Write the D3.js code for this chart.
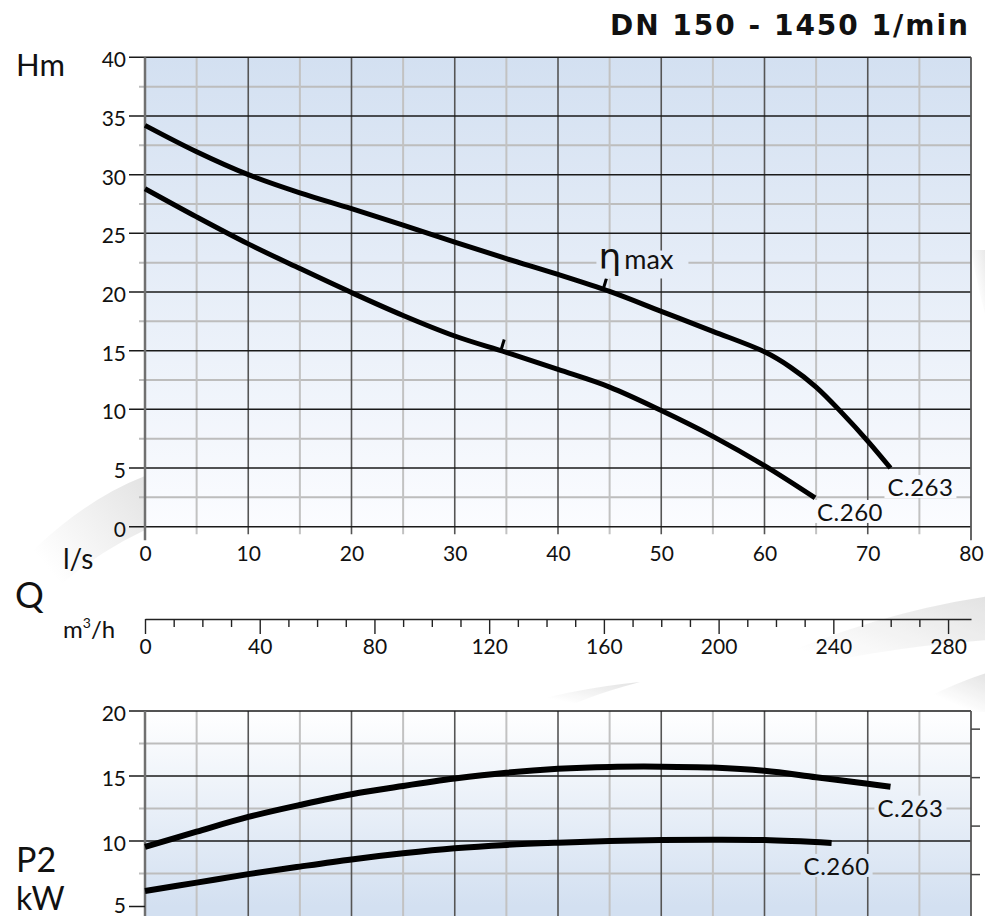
<!DOCTYPE html>
<meta charset="utf-8">
<title>DN 150 - 1450 1/min</title>
<style>
body { margin: 0; background: #fff; }
svg text { fill: #111; }
.tick text { font-size: 21px; font-family: Lato, "Open Sans", sans-serif; }
</style>
<script src="https://d3js.org/d3.v7.min.js"></script>
<div id="chart"></div>
<script>

// tick labels
var qTicks = [0, 10, 20, 30, 40, 50, 60, 70, 80];            // l/s
var qMinor = [5, 15, 25, 35, 45, 55, 65, 75];
var hTicks = [0, 5, 10, 15, 20, 25, 30, 35, 40];             // m
var hMinor = [2.5, 7.5, 12.5, 17.5, 22.5, 27.5, 32.5, 37.5];
var m3Ticks = [0, 40, 80, 120, 160, 200, 240, 280];          // m3/h
var m3Minor = [10, 20, 30, 50, 60, 70, 90, 100, 110, 130, 140, 150, 170, 180, 190,
               210, 220, 230, 250, 260, 270];
var pTicks = [5, 10, 15, 20];                                // kW
var pMinor = [7.5, 12.5, 17.5];
var hpTicks = [10, 15, 20, 25];                              // HP, right side, unlabeled

// head curves H(Q)
var q263 = [0, 5, 10, 15, 20, 25, 30, 35, 40, 45, 50, 55, 60, 62.5, 65, 67.5, 70, 72.2];
var h263 = [34.2, 31.95, 30.0, 28.45, 27.1, 25.7, 24.25, 22.85, 21.5, 20.05, 18.35, 16.65, 14.9, 13.6, 11.9, 9.7, 7.3, 5.0];
var q260 = [0, 5, 10, 15, 20, 25, 30, 35, 40, 45, 50, 55, 60, 64.9];
var h260 = [28.8, 26.4, 24.1, 22.0, 19.95, 18.0, 16.25, 14.85, 13.4, 11.9, 9.9, 7.7, 5.2, 2.45];

// best efficiency points
var etaQ = [44.4, 34.5];
var etaH = [20.3, 15.1];

// power curves P2(Q)
var qp263 = [0, 5, 10, 15, 20, 25, 30, 35, 40, 45, 50, 55, 60, 65, 70, 72.2];
var p263 = [9.55, 10.72, 11.85, 12.77, 13.6, 14.23, 14.8, 15.25, 15.55, 15.7, 15.72, 15.65, 15.4, 14.9, 14.4, 14.18];
var qp260 = [0, 5, 10, 15, 20, 25, 30, 35, 40, 45, 50, 55, 60, 66.5];
var p260 = [6.15, 6.8, 7.45, 8.03, 8.58, 9.05, 9.44, 9.7, 9.87, 10.0, 10.08, 10.1, 10.07, 9.85];

var models = ["C.263", "C.260"];

var W = 985, H = 916;
var FONT = "Lato, 'Open Sans', sans-serif";
var svg = d3.select("#chart").append("svg")
  .attr("width", W).attr("height", H)
  .style("font-family", FONT);

var x = d3.scaleLinear().domain([0, 80]).range([145, 971]);
var xM3 = d3.scaleLinear().domain([0, 288]).range([145, 971]);
var yH = d3.scaleLinear().domain([0, 40]).range([526.7, 57.3]);
var yP = d3.scaleLinear().domain([5, 20]).range([906, 711]);
var yHp = d3.scaleLinear().domain([5 / 0.7457, 20 / 0.7457]).range([906, 711]);

var defs = svg.append("defs");
function grad(id, y1, y2, c1, c2) {
  var g = defs.append("linearGradient").attr("id", id)
    .attr("gradientUnits", "userSpaceOnUse")
    .attr("x1", 0).attr("x2", 0).attr("y1", y1).attr("y2", y2);
  g.append("stop").attr("offset", 0).attr("stop-color", c1);
  g.append("stop").attr("offset", 1).attr("stop-color", c2);
}
grad("topBg", yH(40), yH(0), "#d3e0f1", "#fbfcff");
grad("botBg", yP(20), yP(5), "#ffffff", "#d3e0f1");
var sw = defs.append("linearGradient").attr("id", "swoosh")
  .attr("x1", 1).attr("y1", 0).attr("x2", 0).attr("y2", 1);
sw.append("stop").attr("offset", 0).attr("stop-color", "#dedede");
sw.append("stop").attr("offset", 0.6).attr("stop-color", "#ffffff");

// faint decorative swooshes in the background
var decor = svg.append("g").attr("opacity", 0.85);
decor.append("path").attr("d", "M0,585 Q70,505 145,476 L145,530 Q60,570 0,650 Z").attr("fill", "url(#swoosh)");
decor.append("path").attr("d", "M700,695 Q840,618 990,596 L990,640 Q840,650 700,695 Z").attr("fill", "url(#swoosh)");
decor.append("path").attr("d", "M900,712 Q950,684 990,672 L990,712 Z").attr("fill", "url(#swoosh)");
decor.append("path").attr("d", "M500,712 Q560,690 640,682 Q580,698 560,712 Z").attr("fill", "url(#swoosh)");
decor.append("path").attr("d", "M971,250 Q980,300 990,330 L990,250 Z").attr("fill", "url(#swoosh)");

// ---------- panel helper ----------
function panel(y, yTop, yBot, bg, major, minor, vBottom) {
  var g = svg.append("g");
  g.append("rect")
    .attr("x", x(0)).attr("y", yTop).attr("width", x(80) - x(0)).attr("height", yBot - yTop)
    .attr("fill", "url(#" + bg + ")");
  // minor grid
  g.selectAll(".hmin").data(minor).enter().append("line")
    .attr("x1", x(0) - 6).attr("x2", x(80))
    .attr("y1", function(d) { return y(d); }).attr("y2", function(d) { return y(d); })
    .attr("stroke", "#bdbdbd").attr("stroke-width", 2);
  g.selectAll(".vmin").data(qMinor).enter().append("line")
    .attr("x1", function(d) { return x(d); }).attr("x2", function(d) { return x(d); })
    .attr("y1", yTop).attr("y2", vBottom)
    .attr("stroke", "#c2c2c2").attr("stroke-width", 2);
  // major grid
  g.selectAll(".vmaj").data(qTicks.slice(1, -1)).enter().append("line")
    .attr("x1", function(d) { return x(d); }).attr("x2", function(d) { return x(d); })
    .attr("y1", yTop).attr("y2", vBottom)
    .attr("stroke", "#555").attr("stroke-width", 1.6);
  g.selectAll(".hmaj").data(major).enter().append("line")
    .attr("x1", x(0) - 16).attr("x2", x(80))
    .attr("y1", function(d) { return y(d); }).attr("y2", function(d) { return y(d); })
    .attr("stroke", "#1a1a1a").attr("stroke-width", 1.5);
  // borders
  g.append("line").attr("x1", x(0)).attr("x2", x(0)).attr("y1", yTop).attr("y2", vBottom + 6)
    .attr("stroke", "#707070").attr("stroke-width", 2.5);
  g.append("line").attr("x1", x(80)).attr("x2", x(80)).attr("y1", yTop).attr("y2", vBottom + 6)
    .attr("stroke", "#555").attr("stroke-width", 1.8);
  // tick labels
  var ax = g.append("g").attr("transform", "translate(" + x(0) + ",0)")
    .call(d3.axisLeft(y).tickValues(major).tickSize(0).tickPadding(19));
  ax.select(".domain").remove();
  ax.selectAll("text").attr("dy", "0.45em").attr("fill", "#111");
  return g;
}

panel(yH, yH(40), yH(0), "topBg", hTicks, hMinor, yH(0) + 7.5);
panel(yP, yP(20), H + 2, "botBg", pTicks.slice(1), pMinor, H + 2);

// the "5" of the power axis sits on the bottom edge
var p5 = svg.append("g").attr("transform", "translate(" + x(0) + ",0)")
  .call(d3.axisLeft(yP).tickValues([pTicks[0]]).tickSize(16).tickPadding(3));
p5.select(".domain").remove();
p5.selectAll("line").attr("stroke", "#1a1a1a").attr("stroke-width", 1.5);
p5.selectAll("text").attr("dy", "0.3em").attr("fill", "#111");

// right side HP ticks on the power panel
var hpAx = svg.append("g").attr("transform", "translate(" + x(80) + ",0)")
  .call(d3.axisRight(yHp).tickValues(hpTicks).tickSize(9).tickFormat(""));
hpAx.select(".domain").remove();
hpAx.selectAll("line").attr("stroke", "#444").attr("stroke-width", 1.5);

// Q axis in l/s
var qAx = svg.append("g").attr("transform", "translate(0," + yH(0) + ")")
  .call(d3.axisBottom(x).tickValues(qTicks).tickSize(0).tickPadding(19));
qAx.select(".domain").remove();

// Q axis in m3/h
var mAx = svg.append("g").attr("transform", "translate(0,619)");
mAx.call(d3.axisBottom(xM3).tickValues(m3Minor).tickSize(8).tickSizeOuter(0).tickFormat(""));
mAx.append("g").call(d3.axisBottom(xM3).tickValues(m3Ticks).tickSize(15).tickPadding(5)).select(".domain").remove();
mAx.selectAll("line, path").attr("stroke", "#222").attr("stroke-width", 1.4);

// ---------- curves ----------
function pts(qs, vs) { return qs.map(function(q, i) { return [q, vs[i]]; }); }
var lineH = d3.line().x(function(d) { return x(d[0]); }).y(function(d) { return yH(d[1]); }).curve(d3.curveCatmullRom.alpha(0.5));
var lineP = d3.line().x(function(d) { return x(d[0]); }).y(function(d) { return yP(d[1]); }).curve(d3.curveCatmullRom.alpha(0.5));

var headData = [pts(q263, h263), pts(q260, h260)];
var powerData = [pts(qp263, p263), pts(qp260, p260)];

svg.selectAll(".hcurve").data(headData).enter().append("path")
  .attr("d", lineH).attr("fill", "none").attr("stroke", "#000").attr("stroke-width", 5);
svg.selectAll(".pcurve").data(powerData).enter().append("path")
  .attr("d", lineP).attr("fill", "none").attr("stroke", "#000").attr("stroke-width", 6);

// efficiency ticks
svg.selectAll(".eta").data(etaQ).enter().append("line")
  .attr("x1", function(d) { return x(d); })
  .attr("y1", function(d, i) { return yH(etaH[i]); })
  .attr("x2", function(d) { return x(d) + 3; })
  .attr("y2", function(d, i) { return yH(etaH[i]) - 10; })
  .attr("stroke", "#000").attr("stroke-width", 3);

// label with a box that masks the grid behind it
function label(txt, lx, ly, size, bg) {
  var box = svg.append("rect");
  var t = svg.append("text").attr("x", lx).attr("y", ly).attr("font-size", size)
    .attr("letter-spacing", 0.5).text(txt);
  var b = t.node().getBBox();
  box.attr("x", b.x - 3).attr("y", b.y + 3).attr("width", b.width + 6).attr("height", b.height - 6)
    .attr("fill", "url(#" + bg + ")");
  return t;
}

// eta max label
var ex = x(etaQ[0]), ey = yH(etaH[0]);
svg.append("rect").attr("x", ex - 7).attr("y", ey - 38).attr("width", 92).attr("height", 28)
  .attr("fill", "url(#topBg)");
var etaT = svg.append("text").attr("x", ex - 5).attr("y", ey - 19);
etaT.append("tspan").attr("font-size", 36).style("font-family", "'DejaVu Sans'").text("η");
etaT.append("tspan").attr("font-size", 27).attr("dx", 3).text("max");

// curve end labels
label(models[0], x(q263[q263.length - 1]) - 3, yH(h263[h263.length - 1]) + 28, 24, "topBg");
label(models[1], x(q260[q260.length - 1]) + 2, yH(h260[h260.length - 1]) + 23, 24, "topBg");
label(models[0], x(qp263[qp263.length - 1]) - 13, yP(p263[p263.length - 1]) + 30, 24, "botBg");
label(models[1], x(qp260[qp260.length - 1]) - 28, yP(p260[p260.length - 1]) + 32, 24, "botBg");

// ---------- titles and unit labels ----------
svg.append("text").attr("x", 970).attr("y", 35).attr("text-anchor", "end")
  .style("font-family", "'DejaVu Sans'").attr("font-weight", "bold").attr("font-size", 28)
  .attr("letter-spacing", 2).text("DN 150 - 1450 1/min");
svg.append("text").attr("x", 16).attr("y", 76).attr("font-size", 31).text("Hm");
svg.append("text").attr("x", 63).attr("y", 569).attr("font-size", 28).text("l/s");
svg.append("text").attr("x", 15).attr("y", 608).attr("font-size", 36).text("Q");
var m3 = svg.append("text").attr("x", 63).attr("y", 638).attr("font-size", 24).text("m");
m3.append("tspan").attr("font-size", 14).attr("dy", -10).text("3");
m3.append("tspan").attr("dy", 10).text("/h");
svg.append("text").attr("x", 16).attr("y", 872).attr("font-size", 34).text("P2");
svg.append("text").attr("x", 16).attr("y", 910).attr("font-size", 32).text("kW");

</script>
